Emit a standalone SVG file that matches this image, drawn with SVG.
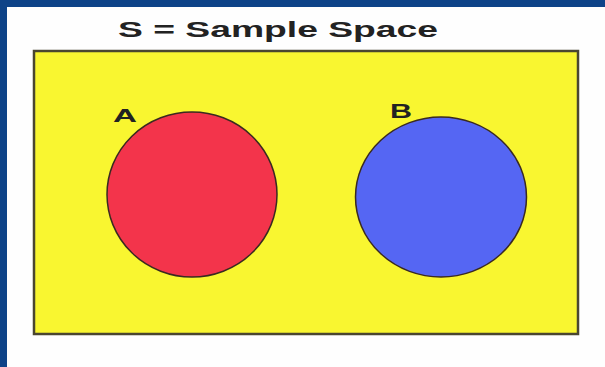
<svg xmlns="http://www.w3.org/2000/svg" width="605" height="367" viewBox="0 0 605 367">
<style>
.lbl{font-family:"Liberation Sans",Arial,sans-serif;font-weight:bold;fill:#222;}
.set{stroke:#3a2a20;stroke-width:1.5;}
</style>
<rect x="0" y="0" width="605" height="367" fill="#0e4388"/>
<rect x="7" y="7" width="598" height="360" fill="#fefefe"/>
<g id="S">
<rect x="34" y="51" width="544" height="283" fill="#f9f630" stroke="#4a4630" stroke-width="2.5"/>
<text class="lbl" x="118" y="37" font-size="22" textLength="320" lengthAdjust="spacingAndGlyphs">S = Sample Space</text>
</g>
<g id="A">
<ellipse class="set" cx="192" cy="194.5" rx="85" ry="82.5" fill="#f3344b"/>
<text class="lbl" x="113" y="122" font-size="19" textLength="24" lengthAdjust="spacingAndGlyphs">A</text>
</g>
<g id="B">
<ellipse class="set" cx="441" cy="197" rx="85.5" ry="80" fill="#5566f3"/>
<text class="lbl" x="390" y="118" font-size="20" textLength="22" lengthAdjust="spacingAndGlyphs">B</text>
</g>
<g id="connectors"/>
</svg>
